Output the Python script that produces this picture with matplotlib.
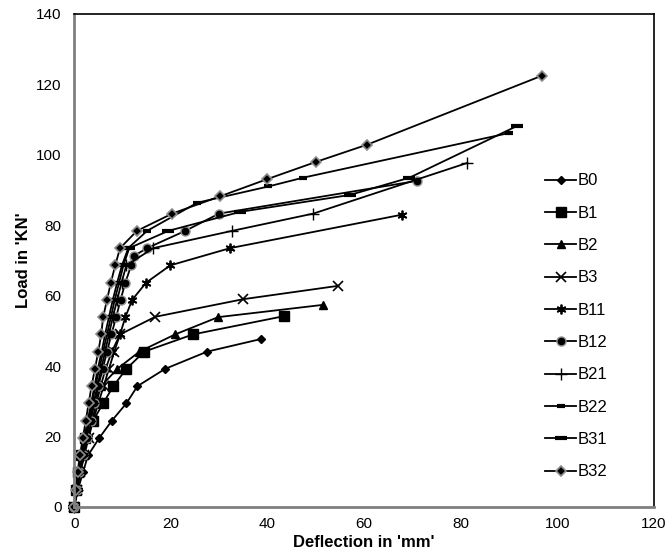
import matplotlib.pyplot as plt

plt.rcParams['font.family'] = ['Liberation Sans', 'DejaVu Sans']

# load steps (kN) and deflections (mm)
load_b0 = [0, 4.9, 9.8, 14.7, 19.6, 24.5, 29.4, 34.3, 39.2, 44.1, 47.7]
defl_b0 = [0, 0.8, 1.8, 2.9, 5.2, 7.8, 10.8, 13.1, 18.8, 27.5, 38.7]

load_b1 = [0, 4.9, 9.8, 14.7, 19.6, 24.5, 29.4, 34.3, 39.2, 44.1, 49.0, 54.2]
defl_b1 = [0, 0.4, 0.9, 1.5, 2.3, 3.9, 6.0, 8.1, 10.8, 14.5, 24.6, 43.5]

load_b2 = [0, 4.9, 9.8, 14.7, 19.6, 24.5, 29.4, 34.3, 39.2, 44.1, 49.0, 53.9, 57.4]
defl_b2 = [0, 0.5, 1.0, 1.6, 2.3, 3.1, 4.1, 5.6, 8.9, 13.5, 20.9, 29.8, 51.6]

load_b3 = [0, 4.9, 9.8, 14.7, 19.6, 24.5, 29.4, 34.3, 39.2, 44.1, 49.0, 54.0, 59.0, 62.8]
defl_b3 = [0, 0.6, 1.3, 2.1, 3.0, 3.9, 5.0, 6.1, 7.2, 8.3, 9.5, 16.8, 35.0, 54.7]

load_b11 = [0, 4.9, 9.8, 14.7, 19.6, 24.5, 29.4, 34.3, 39.2, 44.1, 49.0, 53.9, 58.8, 63.7, 68.6, 73.5, 83.0]
defl_b11 = [0, 0.6, 1.3, 2.0, 2.8, 3.7, 4.6, 5.5, 6.5, 7.8, 9.5, 10.6, 12.0, 14.9, 19.9, 32.3, 67.9]

load_b12 = [0, 4.9, 9.8, 14.7, 19.6, 24.5, 29.4, 34.3, 39.2, 44.1, 49.0, 53.9, 58.8, 63.7, 68.6, 71.3, 73.5, 78.4, 83.3, 92.6]
defl_b12 = [0, 0.5, 1.1, 1.8, 2.6, 3.4, 4.2, 5.0, 5.9, 6.8, 7.7, 8.7, 9.6, 10.6, 11.8, 12.4, 15.1, 23.0, 30.0, 71.0]

load_b21 = [0, 4.9, 9.8, 14.7, 19.6, 24.5, 29.4, 34.3, 39.2, 44.1, 49.0, 53.9, 58.8, 63.7, 68.6, 73.5, 78.4, 83.3, 97.7]
defl_b21 = [0, 0.5, 1.1, 1.8, 2.5, 3.2, 4.0, 4.8, 5.6, 6.4, 7.2, 8.0, 8.9, 9.8, 10.8, 16.4, 32.7, 49.5, 81.4]

load_b22 = [0, 4.9, 9.8, 14.7, 19.6, 24.5, 29.4, 34.3, 39.2, 44.1, 49.0, 53.9, 58.8, 63.7, 68.6, 73.5, 78.4, 86.4, 91.0, 93.5, 106.2]
defl_b22 = [0, 0.4, 0.9, 1.5, 2.1, 2.8, 3.5, 4.2, 4.9, 5.7, 6.4, 7.2, 8.0, 8.9, 9.9, 11.2, 15.1, 25.5, 40.2, 47.4, 90.1]

load_b31 = [0, 4.9, 9.8, 14.7, 19.6, 24.5, 29.4, 34.3, 39.2, 44.1, 49.0, 53.9, 58.8, 63.7, 68.6, 73.5, 78.4, 83.8, 88.6, 93.5, 108.2]
defl_b31 = [0, 0.5, 1.0, 1.6, 2.3, 3.0, 3.7, 4.4, 5.2, 6.0, 6.8, 7.6, 8.4, 9.3, 10.2, 11.4, 19.5, 34.4, 57.1, 69.4, 91.7]

load_b32 = [0, 4.9, 9.8, 14.7, 19.6, 24.5, 29.4, 34.3, 39.2, 44.1, 49.0, 53.9, 58.8, 63.7, 68.6, 73.5, 78.4, 83.3, 88.2, 93.1, 98.0, 102.9, 122.5]
defl_b32 = [0, 0.3, 0.7, 1.2, 1.8, 2.4, 3.0, 3.6, 4.3, 5.0, 5.6, 6.0, 6.8, 7.6, 8.5, 9.5, 13.0, 20.3, 30.2, 40.0, 50.1, 60.7, 96.9]

fig = plt.figure(figsize=(6.68, 5.55), dpi=100)
ax = fig.add_axes([0.111, 0.0865, 0.868, 0.8885])

lw = 1.3
ax.plot(defl_b0, load_b0, color='black', lw=lw, marker='D', ms=4, label='B0', clip_on=False)
ax.plot(defl_b1, load_b1, color='black', lw=lw, marker='s', ms=7, label='B1', clip_on=False)
ax.plot(defl_b2, load_b2, color='black', lw=lw, marker='^', ms=5.5, label='B2', clip_on=False)
ax.plot(defl_b3, load_b3, color='black', lw=lw, marker='x', ms=6.5, mew=1.2, label='B3', clip_on=False)
ax.plot(defl_b11, load_b11, color='black', lw=lw, marker=(6, 2, 0), ms=7, mew=1.3, label='B11', clip_on=False)
ax.plot(defl_b12, load_b12, color='black', lw=lw, marker='o', ms=6.5, mfc='black', mec='#909090',
        mew=1.0, label='B12', clip_on=False)
ax.plot(defl_b21, load_b21, color='black', lw=lw, marker='+', ms=8, mew=1.0, label='B21', clip_on=False)
ax.plot(defl_b22, load_b22, color='black', lw=lw, marker='_', ms=5.5, mew=3, label='B22', clip_on=False)
ax.plot(defl_b31, load_b31, color='black', lw=lw, marker='_', ms=8.5, mew=3, label='B31', clip_on=False)
ax.plot(defl_b32, load_b32, color='black', lw=lw, marker='D', ms=5, mfc='black', mec='#8c8c8c',
        mew=1.2, label='B32', clip_on=False)

ax.set_xlim(0, 120)
ax.set_ylim(0, 140)
ax.set_xticks(range(0, 121, 20))
ax.set_yticks(range(0, 141, 20))
ax.tick_params(length=0, labelsize=11)
ax.tick_params(axis='y', pad=9)
ax.tick_params(axis='x', pad=7)

ax.spines['left'].set_color('#808080')
ax.spines['bottom'].set_color('#808080')
ax.spines['left'].set_linewidth(2)
ax.spines['bottom'].set_linewidth(2)
ax.spines['top'].set_color('black')
ax.spines['right'].set_color('black')
ax.spines['top'].set_linewidth(1.2)
ax.spines['right'].set_linewidth(1.2)

ax.set_xlabel("Deflection in 'mm'", fontsize=12, fontweight='bold', labelpad=3)
ax.set_ylabel("Load in 'KN'", fontsize=12, fontweight='bold', labelpad=4)

ax.legend(loc='upper left', bbox_to_anchor=(0.8, 0.69), frameon=False, fontsize=12,
          handlelength=1.9, handletextpad=0.05, labelspacing=1.04, borderaxespad=0)

fig.savefig('out.png', dpi=100)
